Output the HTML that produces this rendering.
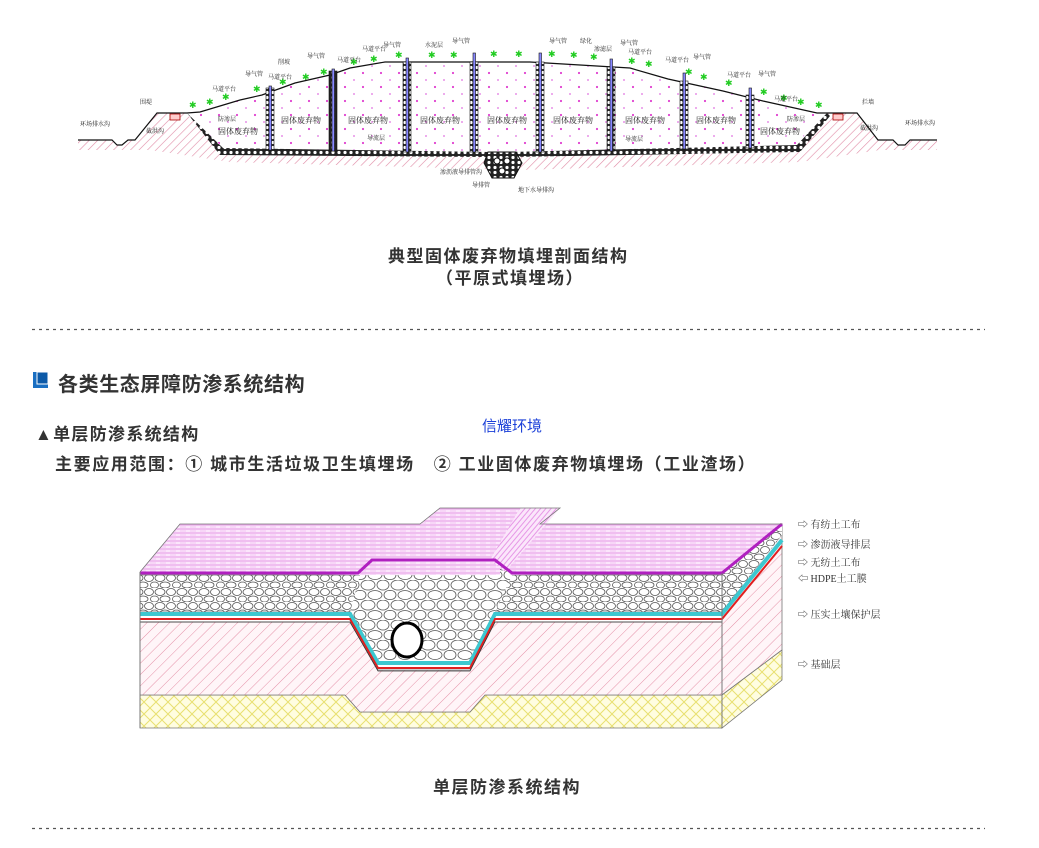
<!DOCTYPE html>
<html><head><meta charset="utf-8">
<style>
html,body{margin:0;padding:0;background:#fff;}
body{width:1039px;height:848px;overflow:hidden;position:relative;font-family:"Liberation Sans","Noto Sans CJK SC",sans-serif;}
svg{position:absolute;left:0;top:0;}
.t{position:absolute;white-space:nowrap;color:#333;}
</style></head><body>
<svg width="1039" height="848" viewBox="0 0 1039 848">
<defs>
<pattern id="hatch" width="6" height="6" patternUnits="userSpaceOnUse" patternTransform="rotate(45)"><line x1="0" y1="0" x2="0" y2="6" stroke="#e08aa5" stroke-width="1.2"/></pattern>
<pattern id="dots" width="18" height="14" patternUnits="userSpaceOnUse"><circle cx="3" cy="3" r="1.1" fill="#e040d0"/><circle cx="12" cy="10" r="0.9" fill="#e070e0"/></pattern>
<pattern id="gravel" width="6" height="5" patternUnits="userSpaceOnUse"><rect width="6" height="5" fill="#222"/><circle cx="3" cy="2.5" r="1.6" fill="#fff"/></pattern>
<pattern id="stones" width="22" height="14" patternUnits="userSpaceOnUse"><rect width="22" height="14" fill="#fff"/><ellipse cx="6" cy="4" rx="5" ry="3.5" fill="none" stroke="#555" stroke-width="0.8"/><ellipse cx="17" cy="4" rx="4.5" ry="3.5" fill="none" stroke="#555" stroke-width="0.8"/><ellipse cx="11" cy="11" rx="5" ry="3" fill="none" stroke="#555" stroke-width="0.8"/><ellipse cx="1" cy="11" rx="3.5" ry="3" fill="none" stroke="#555" stroke-width="0.8"/><ellipse cx="22" cy="11" rx="3.5" ry="3" fill="none" stroke="#555" stroke-width="0.8"/></pattern>
<pattern id="bigstones" width="30" height="20" patternUnits="userSpaceOnUse"><rect width="30" height="20" fill="#fff"/><ellipse cx="8" cy="5" rx="7" ry="5" fill="none" stroke="#555" stroke-width="0.8"/><ellipse cx="23" cy="5" rx="6" ry="5" fill="none" stroke="#555" stroke-width="0.8"/><ellipse cx="15" cy="15" rx="7" ry="4.5" fill="none" stroke="#555" stroke-width="0.8"/><ellipse cx="1" cy="15" rx="5" ry="4.5" fill="none" stroke="#555" stroke-width="0.8"/><ellipse cx="29" cy="15" rx="5" ry="4.5" fill="none" stroke="#555" stroke-width="0.8"/></pattern>
<pattern id="pinkstripe" width="10" height="4" patternUnits="userSpaceOnUse"><rect width="10" height="4" fill="#fbe6fb"/><line x1="0" y1="1" x2="10" y2="1" stroke="#e48ee4" stroke-width="0.9"/><line x1="0" y1="3" x2="6" y2="3" stroke="#f0b8f0" stroke-width="0.7"/></pattern>
<pattern id="pinkstripe2" width="4" height="4" patternUnits="userSpaceOnUse" patternTransform="rotate(-50)"><rect width="4" height="4" fill="#fbe6fb"/><line x1="0" y1="1" x2="4" y2="1" stroke="#e48ee4" stroke-width="0.9"/></pattern>
<pattern id="soil" width="8" height="8" patternUnits="userSpaceOnUse" patternTransform="rotate(45)"><rect width="8" height="8" fill="#fff5f8"/><line x1="0" y1="0" x2="0" y2="8" stroke="#e3869f" stroke-width="0.9"/></pattern>
<pattern id="yellow" width="12" height="12" patternUnits="userSpaceOnUse"><rect width="12" height="12" fill="#fffde0"/><path d="M0 6 L6 0 M6 12 L12 6 M0 6 L6 12 M6 0 L12 6" stroke="#e8e070" stroke-width="1"/></pattern>
</defs>

<path d="M78 140 L112 140 L117 145 L122 145 L128 140 L135 140 L157 113 L187 113 L223 151 L500 155 L797 148 L827 113 L857 113 L878 140 L893 140 L898 145 L905 145 L910 140 L937 140 L937 150 L880 150 L800 162 L520 170 L230 162 L150 150 L78 150 Z" fill="url(#hatch)"/>
<path d="M187 113 L200 112 L240 100 L262 95 L295 83 L330 75 L350 68 L385 62 L470 62 L530 62 L630 68 L668 79 L723 91 L763 101 L817 113 L797 148 L500 152 L223 148 Z" fill="url(#dots)"/>
<polyline points="78,140 112,140 117,145 122,145 128,140 135,140 157,113 187,113 200,112 240,100 262,95 295,83 330,75 350,68 385,62 470,62 530,62 630,68 668,79 723,91 763,101 817,113 827,113 857,113 878,140 893,140 898,145 905,145 910,140 937,140" fill="none" stroke="#111" stroke-width="1.2"/>
<path d="M187 113 L223 148 L490 152 L510 152 L797 145 L827 113 L830 116 L800 152 L510 157 L490 157 L220 155 Z" fill="url(#gravel)"/>
<path d="M488 152 L516 152 L522 163 L514 178 L492 178 L484 163 Z" fill="url(#gravel)" stroke="#111"/>
<circle cx="497" cy="161" r="3" fill="#fff" stroke="#111"/><circle cx="507" cy="161" r="3" fill="#fff" stroke="#111"/><circle cx="502" cy="171" r="3" fill="#fff" stroke="#111"/>
<rect x="170" y="114" width="10" height="6" fill="#fcc" stroke="#a00" stroke-width="0.8"/>
<rect x="833" y="114" width="10" height="6" fill="#fcc" stroke="#a00" stroke-width="0.8"/>
<g stroke="#111" stroke-width="0.6">
<rect x="266" y="88" width="8" height="62" fill="url(#gravel)"/><rect x="269" y="86" width="2.5" height="64" fill="#88f"/>
<rect x="329" y="71" width="8" height="80" fill="url(#gravel)"/><rect x="332" y="69" width="2.5" height="82" fill="#88f"/>
<rect x="403" y="62" width="8" height="90" fill="url(#gravel)"/><rect x="406" y="58" width="2.5" height="94" fill="#88f"/>
<rect x="470" y="62" width="8" height="90" fill="url(#gravel)"/><rect x="473" y="53" width="2.5" height="99" fill="#88f"/>
<rect x="536" y="62" width="8" height="90" fill="url(#gravel)"/><rect x="539" y="53" width="2.5" height="99" fill="#88f"/>
<rect x="607" y="67" width="8" height="84" fill="url(#gravel)"/><rect x="610" y="59" width="2.5" height="92" fill="#88f"/>
<rect x="680" y="81" width="8" height="68" fill="url(#gravel)"/><rect x="683" y="73" width="2.5" height="76" fill="#88f"/>
<rect x="746" y="95" width="8" height="53" fill="url(#gravel)"/><rect x="749" y="88" width="2.5" height="60" fill="#88f"/>
</g>
<g fill="#2c2" font-size="9">
<text x="189" y="108">✱</text><text x="206" y="105">✱</text><text x="222" y="100">✱</text><text x="253" y="92">✱</text><text x="279" y="85">✱</text><text x="302" y="80">✱</text><text x="320" y="75">✱</text><text x="350" y="65">✱</text><text x="370" y="62">✱</text><text x="395" y="58">✱</text><text x="428" y="58">✱</text><text x="450" y="58">✱</text><text x="490" y="57">✱</text><text x="515" y="57">✱</text><text x="548" y="57">✱</text><text x="570" y="58">✱</text><text x="590" y="60">✱</text><text x="628" y="64">✱</text><text x="645" y="67">✱</text><text x="685" y="75">✱</text><text x="700" y="80">✱</text><text x="725" y="86">✱</text><text x="760" y="95">✱</text><text x="780" y="101">✱</text><text x="797" y="105">✱</text><text x="815" y="108">✱</text>
</g>
<g font-family="Liberation Serif,Noto Serif CJK SC,serif" font-size="6" fill="#222">
<text x="80" y="126">环场排水沟</text><text x="140" y="104">围堤</text><text x="146" y="133">截洪沟</text><text x="212" y="91">马道平台</text><text x="245" y="76">导气管</text><text x="268" y="79">马道平台</text><text x="278" y="64">削坡</text><text x="307" y="58">导气管</text><text x="337" y="62">马道平台</text><text x="362" y="51">马道平台</text><text x="383" y="47">导气管</text><text x="425" y="47">水泥层</text><text x="452" y="43">导气管</text><text x="549" y="43">导气管</text><text x="580" y="43">绿化</text><text x="594" y="51">渗滤层</text><text x="620" y="45">导气管</text><text x="628" y="54">马道平台</text><text x="665" y="62">马道平台</text><text x="693" y="59">导气管</text><text x="727" y="77">马道平台</text><text x="758" y="76">导气管</text><text x="774" y="101">马道平台</text><text x="862" y="104">拦墙</text><text x="860" y="130">截洪沟</text><text x="905" y="125">环场排水沟</text>
<text x="218" y="121">防渗层</text><text x="787" y="121">防渗层</text><text x="367" y="140">导流层</text><text x="625" y="141">导流层</text>
<text x="440" y="174">渗沥液导排管沟</text><text x="472" y="187">导排管</text><text x="518" y="192">地下水导排沟</text>
</g>
<g font-family="Liberation Serif,Noto Serif CJK SC,serif" font-size="8" fill="#222">
<text x="218" y="134">固体废弃物</text><text x="281" y="123">固体废弃物</text><text x="348" y="123">固体废弃物</text><text x="420" y="123">固体废弃物</text><text x="487" y="123">固体废弃物</text><text x="553" y="123">固体废弃物</text><text x="625" y="123">固体废弃物</text><text x="696" y="123">固体废弃物</text><text x="760" y="134">固体废弃物</text>
</g>

<line x1="32" y1="329.5" x2="985" y2="329.5" stroke="#555" stroke-width="1.2" stroke-dasharray="3,4"/>
<line x1="32" y1="828.5" x2="985" y2="828.5" stroke="#555" stroke-width="1.2" stroke-dasharray="3,4"/>

<rect x="33" y="372" width="15" height="16" fill="#1a6fc2"/>
<rect x="37" y="372" width="11" height="12" fill="#0d5aa8" stroke="#fff" stroke-width="1"/>

<path d="M140 695 L345 695 L360 712 L470 712 L485 695 L722 695 L722 728 L140 728 Z" fill="url(#yellow)" stroke="#777" stroke-width="0.8"/>
<path d="M140 622 L350 622 L378 670 L470 670 L495 622 L722 622 L722 695 L485 695 L470 712 L360 712 L345 695 L140 695 Z" fill="url(#soil)" stroke="#777" stroke-width="0.8"/>
<path d="M722 575 L782 524 L782 650 L722 695 Z" fill="url(#soil)" stroke="#777" stroke-width="0.8"/>
<path d="M722 695 L782 650 L782 680 L722 728 Z" fill="url(#yellow)" stroke="#777" stroke-width="0.8"/>
<path d="M140 575 L722 575 L722 612 L140 612 Z" fill="url(#stones)" stroke="#666" stroke-width="0.8"/>
<path d="M360 575 L372 560 L495 560 L512 575 L495 612 L470 660 L378 660 L350 612 Z" fill="url(#bigstones)"/>
<path d="M722 575 L782 524 L782 535 L722 612 Z" fill="url(#stones)"/>
<path d="M140 614 L350 614 L378 663 L470 663 L495 614 L722 614 L782 540" fill="none" stroke="#3cc8d0" stroke-width="4"/>
<path d="M140 619 L350 619 L378 668 L470 668 L495 619 L722 619 L782 546" fill="none" stroke="#e02020" stroke-width="2"/>
<path d="M140 622 L350 622 L378 671 L470 671 L495 622 L722 622" fill="none" stroke="#333" stroke-width="0.8"/>
<ellipse cx="407" cy="640" rx="15" ry="17" fill="#fff" stroke="#000" stroke-width="3"/>
<path d="M140 572 L180 524 L500 524 L500 575 L360 575 Z" fill="url(#pinkstripe)"/>
<path d="M500 524 L782 524 L722 572 L510 575 Z" fill="url(#pinkstripe)"/>
<path d="M360 572 L420 524 L440 508 L520 508 L560 508 L505 570 L490 560 L372 560 Z" fill="url(#pinkstripe)"/>
<path d="M520 508 L560 508 L505 572 L490 560 Z" fill="url(#pinkstripe2)"/>
<path d="M140 573 L358 573 L372 560 L495 560 L512 573 L722 573 L782 524" fill="none" stroke="#b020c0" stroke-width="3"/>
<path d="M140 572 L180 524 L420 524 L440 508 L520 508 L560 508 L540 524 L782 524" fill="none" stroke="#777" stroke-width="0.8"/>
<line x1="140" y1="572" x2="140" y2="728" stroke="#777"/>
<line x1="722" y1="573" x2="722" y2="728" stroke="#777"/>

<g font-family="Liberation Serif,Noto Serif CJK SC,serif" font-size="10" fill="#333">
<text x="798" y="528">⇨ 有纺土工布</text>
<text x="798" y="548">⇨ 渗沥液导排层</text>
<text x="798" y="566">⇨ 无纺土工布</text>
<text x="798" y="582">⇦ HDPE土工膜</text>
<text x="798" y="618">⇨ 压实土壤保护层</text>
<text x="798" y="668">⇨ 基础层</text>
</g>
</svg>

<div class="t" style="left:388px;top:242px;font-size:17px;letter-spacing:1.5px;font-weight:bold;">典型固体废弃物填埋剖面结构</div>
<div class="t" style="left:436px;top:264px;font-size:17px;letter-spacing:1.5px;font-weight:bold;">（平原式填埋场）</div>
<div class="t" style="left:58px;top:368px;font-size:20px;letter-spacing:0.6px;font-weight:bold;">各类生态屏障防渗系统结构</div>
<div class="t" style="left:35px;top:420px;font-size:17px;letter-spacing:1.3px;font-weight:bold;">▲单层防渗系统结构</div>
<div class="t" style="left:482px;top:415px;font-size:15px;color:#1a3fd8;">信耀环境</div>
<div class="t" style="left:55px;top:450px;font-size:17px;letter-spacing:1.6px;font-weight:bold;">主要应用范围：① 城市生活垃圾卫生填埋场&nbsp;&nbsp;&nbsp;② 工业固体废弃物填埋场（工业渣场）</div>
<div class="t" style="left:433px;top:773px;font-size:17px;letter-spacing:1.5px;font-weight:bold;">单层防渗系统结构</div>
</body></html>
